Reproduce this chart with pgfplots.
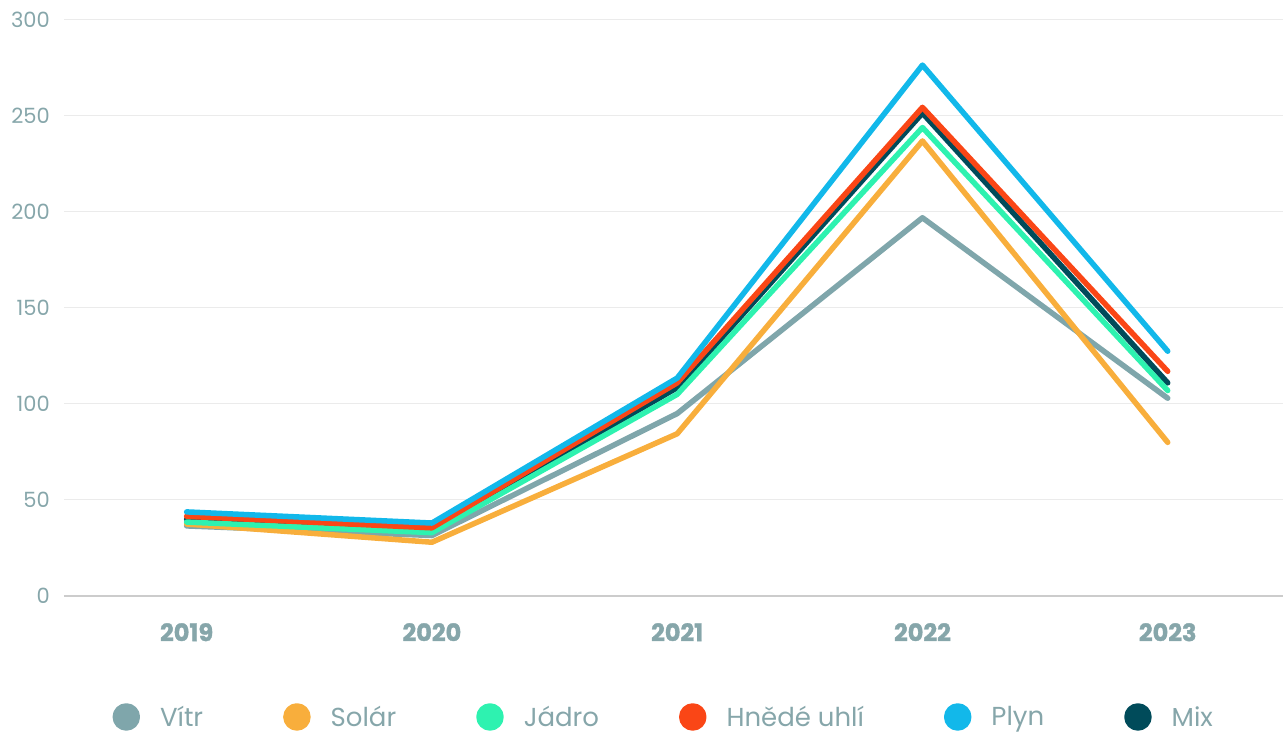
\documentclass[border=0pt]{standalone}
\usepackage{fontspec}
\setmainfont{Poppins}[BoldFeatures={FakeBold=1.5}]
\usepackage{pgfplots}
\pgfplotsset{compat=1.18}

\definecolor{labelc}{HTML}{86A6AA}
\definecolor{gridc}{HTML}{EBEBEB}
\definecolor{basec}{HTML}{CCCCCC}
\definecolor{cvitr}{HTML}{7FA6AB}
\definecolor{csolar}{HTML}{F8AE3C}
\definecolor{cjadro}{HTML}{2EF2B0}
\definecolor{chnede}{HTML}{FA4616}
\definecolor{cplyn}{HTML}{12B8EA}
\definecolor{cmix}{HTML}{004B5A}

\begin{document}
\begin{tikzpicture}
\useasboundingbox (-64pt,-139pt) rectangle (1219pt,596pt);
\begin{axis}[at={(0pt,0pt)},anchor=south west,scale only axis,width=1219pt,height=576pt,
  xmin=2018.5,xmax=2023.47,ymin=0,ymax=300,
  axis line style={draw=none},major tick length=0pt,
  ytick={0,50,...,300},ymajorgrids,grid style={gridc,line width=1pt},
  xtick={2019,2020,2021,2022,2023},xticklabels={2019,2020,2021,2022,2023},
  /pgf/number format/assume math mode=true,
  yticklabel style={text=labelc,font=\fontsize{21}{21}\selectfont,anchor=east,inner sep=0pt,xshift=-14pt},
  xticklabel style={text=labelc,font=\bfseries\fontsize{24}{24}\selectfont,anchor=north,inner sep=0pt,yshift=-27pt},
  legend style={at={(0.492,-0.21)},anchor=center,draw=none,fill=none,legend columns=6,
    font=\fontsize{26}{26}\selectfont,text=labelc,
    /tikz/every odd column/.append style={column sep=18pt},
    /tikz/every even column/.append style={column sep=78pt}},
  legend image code/.code={\fill (0pt,0pt) circle (11pt);},
  every axis plot/.append style={line width=5.5pt,line cap=round,line join=round},
  clip=false]
% Mix drawn first so the other lines sit on top of it
\addplot[cmix,forget plot] coordinates {(2019,40) (2020,34.5) (2021,108.5) (2022,251.5) (2023,111)};
\addplot[cvitr] coordinates {(2019,36.5) (2020,31.5) (2021,95) (2022,197) (2023,103)};
\addlegendentry{Vítr}
\addplot[csolar] coordinates {(2019,37.5) (2020,28) (2021,84.5) (2022,237) (2023,80)};
\addlegendentry{Solár}
\addplot[cjadro] coordinates {(2019,38.5) (2020,33) (2021,105) (2022,244) (2023,107)};
\addlegendentry{Jádro}
\addplot[chnede] coordinates {(2019,41.5) (2020,35.5) (2021,111) (2022,254.5) (2023,117)};
\addlegendentry{Hnědé uhlí}
\addplot[cplyn] coordinates {(2019,43.8) (2020,38) (2021,113.5) (2022,276.5) (2023,127.5)};
\addlegendentry{Plyn}
\addlegendimage{cmix}
\addlegendentry{Mix}
\draw[basec,line width=1.2pt] (rel axis cs:0,0) -- (rel axis cs:1,0);
\end{axis}
\end{tikzpicture}
\end{document}
